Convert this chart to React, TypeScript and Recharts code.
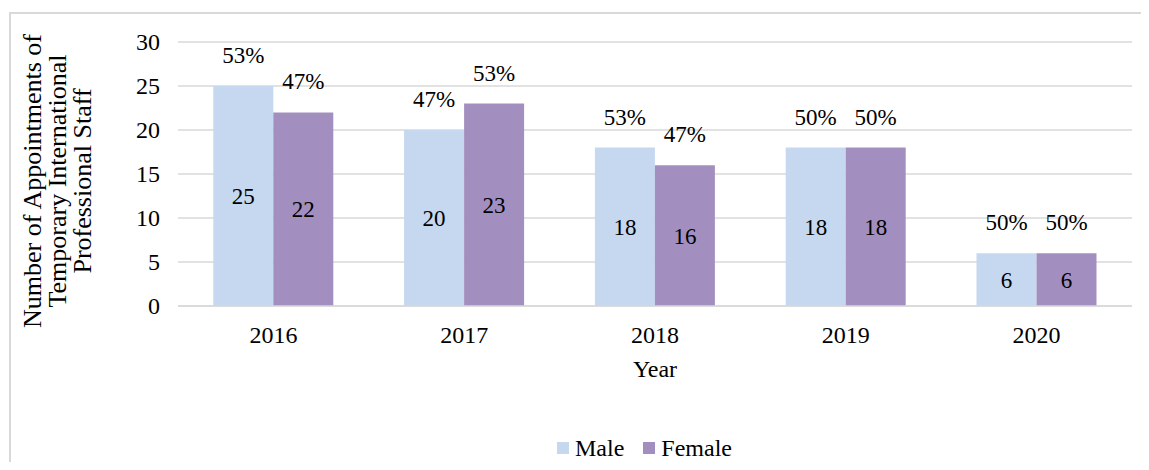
import React from 'react';
import { BarChart, Bar, XAxis, YAxis, CartesianGrid, Legend, LabelList } from 'recharts';

const years = ['2016', '2017', '2018', '2019', '2020'];
const male = [25, 20, 18, 18, 6];
const female = [22, 23, 16, 18, 6];
const malePct = ['53%', '47%', '53%', '50%', '50%'];
const femalePct = ['47%', '53%', '47%', '50%', '50%'];
const yTicks = [0, 5, 10, 15, 20, 25, 30];
const yTitle = ['Number of Appointments of', 'Temporary International', 'Professional Staff'];

const FONT = 'Liberation Serif, Times New Roman, serif';
const MALE_COLOR = '#C5D8F0';
const FEMALE_COLOR = '#A38FBF';
const GRID = '#D9D9D9';

const data = years.map((year, i) => ({
  year,
  male: male[i],
  female: female[i],
  malePct: malePct[i],
  femalePct: femalePct[i],
}));

// plain serif text, used for every label in the svg
const T = ({ size = 24, style, children, ...rest }: any) => (
  <text fontSize={size} fill="#000" style={{ fontFamily: FONT, ...style }} {...rest}>
    {children}
  </text>
);

const valueLabel = (props: any) => {
  const { x, y, width, height, value } = props;
  return (
    <T size={23} x={x + width / 2} y={y + height / 2 + 8} textAnchor="middle">
      {value}
    </T>
  );
};

const pctLabel = (pcts: string[]) => (props: any) => {
  const { x, y, width, index } = props;
  return (
    <T size={23} x={x + width / 2} y={y - 23} textAnchor="middle">
      {pcts[index]}
    </T>
  );
};

const XTick = (props: any) => {
  const { x, y, payload } = props;
  return (
    <T x={x} y={y + 17} textAnchor="middle">
      {payload.value}
    </T>
  );
};

const YTick = (props: any) => {
  const { x, y, payload } = props;
  return (
    <T x={x} y={y + 8} textAnchor="end">
      {payload.value}
    </T>
  );
};

const YTitle = (props: any) => {
  const vb = props.viewBox || { y: 42, height: 264 };
  const cy = vb.y + vb.height / 2 + 7;
  return (
    <g>
      {yTitle.map((line, i) => {
        const bx = 41 + i * 25;
        return (
          <T key={line} size={26} x={bx} y={cy} transform={`rotate(-90, ${bx}, ${cy})`} textAnchor="middle">
            {line}
          </T>
        );
      })}
    </g>
  );
};

const XTitle = (props: any) => {
  const vb = props.viewBox || { x: 178, y: 306, width: 954 };
  return (
    <T x={vb.x + vb.width / 2} y={vb.y + 71} textAnchor="middle">
      Year
    </T>
  );
};

const LegendContent = () => (
  <div style={{ display: 'flex', alignItems: 'center', fontSize: 24, lineHeight: '24px', fontFamily: FONT, color: '#000' }}>
    {[
      { name: 'Male', color: MALE_COLOR },
      { name: 'Female', color: FEMALE_COLOR },
    ].map((item) => (
      <span key={item.name} style={{ display: 'inline-flex', alignItems: 'center', marginRight: 19 }}>
        <span style={{ display: 'inline-block', width: 12, height: 12, background: item.color, marginRight: 6 }} />
        {item.name}
      </span>
    ))}
  </div>
);

export default function App() {
  return (
    <div style={{ position: 'relative', width: 1149, height: 470, margin: -8, overflow: 'hidden', background: '#fff', fontFamily: FONT }}>
      <div
        style={{
          position: 'absolute',
          left: 9,
          top: 12,
          width: 1200,
          height: 520,
          borderTop: `2px solid ${GRID}`,
          borderLeft: `2px solid ${GRID}`,
        }}
      />
      <BarChart
        width={1149}
        height={470}
        data={data}
        margin={{ top: 42, right: 17, left: 0, bottom: 0 }}
        barCategoryGap="18.5%"
        barGap={0}
      >
        <CartesianGrid vertical={false} stroke={GRID} strokeWidth={1.5} />
        <XAxis
          dataKey="year"
          height={164}
          tickSize={0}
          tickMargin={20}
          axisLine={{ stroke: GRID, strokeWidth: 1.5 }}
          tickLine={false}
          tick={<XTick />}
          label={<XTitle />}
        />
        <YAxis
          width={178}
          domain={[0, 30]}
          ticks={yTicks}
          tickSize={0}
          tickMargin={18}
          axisLine={false}
          tickLine={false}
          tick={<YTick />}
          label={<YTitle />}
        />
        <Legend
          layout="horizontal"
          verticalAlign="middle"
          align="center"
          content={<LegendContent />}
          wrapperStyle={{ top: 436, left: 557, width: 'auto', height: 24 }}
        />
        <Bar dataKey="male" name="Male" fill={MALE_COLOR} isAnimationActive={false}>
          <LabelList dataKey="male" content={valueLabel} />
          <LabelList dataKey="malePct" content={pctLabel(malePct)} />
        </Bar>
        <Bar dataKey="female" name="Female" fill={FEMALE_COLOR} isAnimationActive={false}>
          <LabelList dataKey="female" content={valueLabel} />
          <LabelList dataKey="femalePct" content={pctLabel(femalePct)} />
        </Bar>
      </BarChart>
    </div>
  );
}
